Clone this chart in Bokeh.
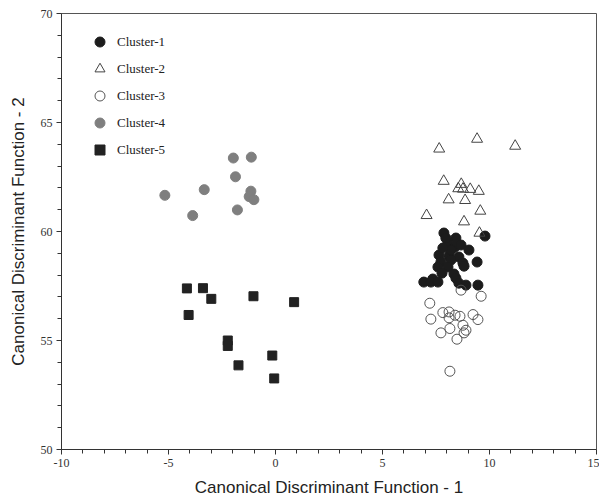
from bokeh.plotting import figure
from bokeh.models import Range1d, FixedTicker, Legend, LegendItem
from bokeh.embed import file_html
from bokeh.resources import INLINE

# Cluster-1 (black filled circles)
c1_x = [7.87, 8.43, 9.79, 8.06, 8.39, 9.04, 7.64, 8.11, 8.57, 7.73, 8.20, 8.76, 9.42, 7.59, 8.06,
        8.81, 7.78, 8.34, 7.35, 6.93, 7.26, 7.59, 8.43, 8.57, 8.90, 9.46, 8.20, 7.82, 8.67, 7.96]
c1_y = [59.93, 59.70, 59.79, 59.47, 59.29, 59.15, 58.92, 58.87, 58.83, 58.60, 58.69, 58.55, 58.60, 58.37, 58.37,
        58.41, 58.09, 58.05, 57.82, 57.68, 57.68, 57.68, 57.86, 57.63, 57.54, 57.54, 59.15, 59.24, 59.38, 59.70]

# Cluster-2 (open triangles)
c2_x = [7.65, 9.42, 11.20, 7.86, 8.68, 8.54, 8.76, 9.10, 9.50, 8.09, 8.86, 9.57, 7.06, 8.81, 9.53]
c2_y = [63.79, 64.24, 63.92, 62.31, 62.17, 61.97, 61.95, 61.94, 61.85, 61.46, 61.43, 60.94, 60.74, 60.45, 59.93]

# Cluster-3 (open circles)
c3_x = [8.67, 9.61, 7.21, 7.26, 7.82, 8.11, 8.11, 8.39, 8.62, 9.23, 9.46, 8.76, 8.15, 7.73, 8.81, 8.90, 8.48, 8.15]
c3_y = [57.31, 57.03, 56.71, 55.98, 56.28, 56.31, 56.04, 56.16, 56.11, 56.19, 55.96, 55.70, 55.55, 55.35, 55.35, 55.47, 55.06, 53.59]

# Cluster-4 (grey filled circles)
c4_x = [-1.97, -1.13, -1.87, -3.33, -5.17, -1.15, -1.23, -1.01, -3.87, -1.78]
c4_y = [63.37, 63.41, 62.51, 61.92, 61.66, 61.85, 61.60, 61.46, 60.73, 60.99]

# Cluster-5 (black squares)
c5_x = [-4.14, -3.39, -3.00, -1.03, 0.87, -4.06, -2.23, -2.23, -0.15, -1.73, -0.06]
c5_y = [57.39, 57.40, 56.91, 57.03, 56.76, 56.17, 55.00, 54.75, 54.31, 53.86, 53.26]

x_ticks = [-10, -5, 0, 5, 10, 15]
y_ticks = [50, 55, 60, 65, 70]
x_minor = [v for v in range(-10, 16) if v not in x_ticks]
y_minor = [v for v in range(50, 71) if v not in y_ticks]

p = figure(width=599, height=499, output_backend="svg", toolbar_location=None,
           x_range=Range1d(-10, 15), y_range=Range1d(50, 70),
           min_border_left=61, min_border_right=3, min_border_top=13, min_border_bottom=50)
p.xgrid.visible = False
p.ygrid.visible = False
p.outline_line_color = "#555555"
p.outline_line_width = 1
p.background_fill_color = "white"
p.border_fill_color = "white"

r1 = p.scatter(c1_x, c1_y, marker="circle", size=10, fill_color="#1c1c1c", line_color="#1c1c1c")
r2 = p.scatter(c2_x, c2_y, marker="triangle", size=11, fill_color="white", fill_alpha=0.0,
               line_color="#444444", line_width=1)
r3 = p.scatter(c3_x, c3_y, marker="circle", size=10, fill_color="white", fill_alpha=0.0,
               line_color="#555555", line_width=1)
r4 = p.scatter(c4_x, c4_y, marker="circle", size=10, fill_color="#7f7f7f", line_color="#7f7f7f")
r5 = p.scatter(c5_x, c5_y, marker="square", size=9, fill_color="#222222", line_color="#222222")

legend = Legend(items=[
    LegendItem(label="Cluster-1", renderers=[r1]),
    LegendItem(label="Cluster-2", renderers=[r2]),
    LegendItem(label="Cluster-3", renderers=[r3]),
    LegendItem(label="Cluster-4", renderers=[r4]),
    LegendItem(label="Cluster-5", renderers=[r5]),
], location=(26, 287))
legend.margin = 0
legend.padding = 0
legend.glyph_width = 25
legend.glyph_height = 25
legend.label_height = 25
legend.spacing = 2
legend.label_standoff = 5
legend.border_line_color = None
legend.background_fill_alpha = 0.0
legend.label_text_font = "Liberation Serif"
legend.label_text_font_size = "13px"
legend.label_text_color = "#222222"
p.add_layout(legend, "center")

for ax in (p.xaxis[0], p.yaxis[0]):
    ax.axis_line_color = "#333333"
    ax.major_tick_line_color = "#333333"
    ax.minor_tick_line_color = "#333333"
    ax.major_tick_out = 5
    ax.major_tick_in = 0
    ax.minor_tick_out = 4
    ax.minor_tick_in = 0
    ax.major_label_text_font = "Liberation Serif"
    ax.major_label_text_font_size = "12px"
    ax.major_label_text_color = "#333333"
    ax.axis_label_text_font = "Liberation Sans"
    ax.axis_label_text_font_size = "17px"
    ax.axis_label_text_font_style = "normal"
    ax.axis_label_text_color = "#222222"

p.xaxis.ticker = FixedTicker(ticks=x_ticks, minor_ticks=x_minor)
p.yaxis.ticker = FixedTicker(ticks=y_ticks, minor_ticks=y_minor)
p.xaxis.major_label_overrides = {t: str(t) for t in x_ticks}
p.yaxis.major_label_overrides = {t: str(t) for t in y_ticks}
p.xaxis.axis_label = "Canonical Discriminant Function - 1"
p.yaxis.axis_label = "Canonical Discriminant Function - 2"
p.xaxis.major_label_standoff = 4
p.xaxis.axis_label_standoff = 8
p.yaxis.major_label_standoff = 4
p.yaxis.axis_label_standoff = 10

open("out.html", "w").write(file_html(p, INLINE))
